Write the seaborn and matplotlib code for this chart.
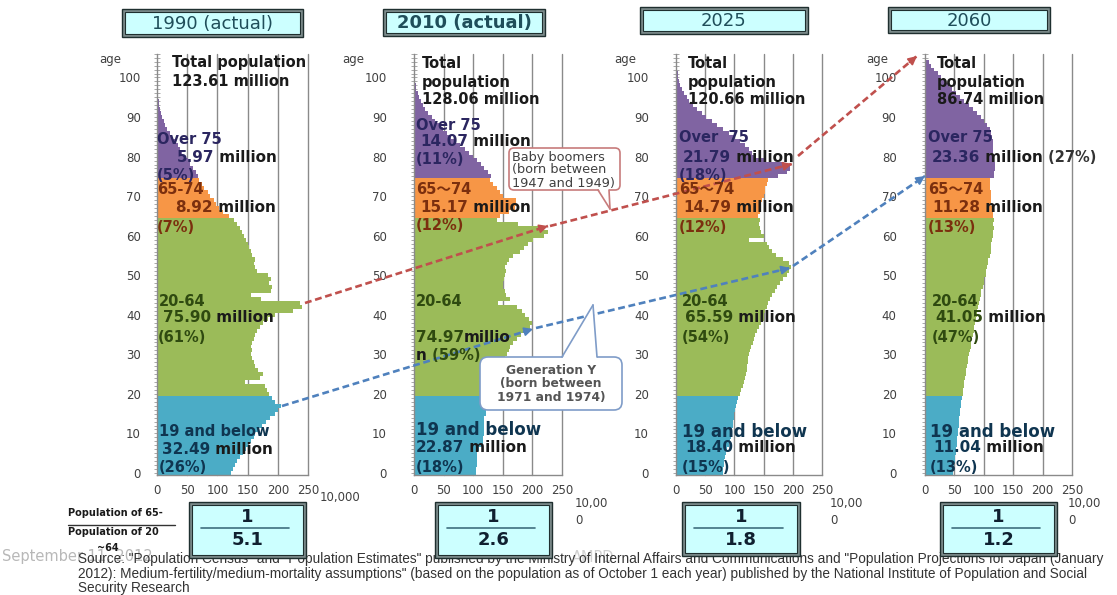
import numpy as np
import pandas as pd
import matplotlib
matplotlib.use("Agg")
import matplotlib.pyplot as plt
import seaborn as sns
from matplotlib.patches import Rectangle, FancyBboxPatch, Polygon
from matplotlib.ticker import MultipleLocator

# ---------------- data (population by single age, unit: 10,000 persons) ----------------
ages = list(range(0, 105))

pop_1990 = [122, 125, 129, 133, 138, 142, 148, 150, 155, 160,
            163, 168, 174, 181, 187, 195, 201, 206, 196, 190,
            185, 182, 178, 145, 170, 176, 168, 163, 160, 157,
            156, 158, 155, 157, 160, 163, 166, 170, 176, 183,
            195, 225, 240, 236, 172, 155, 188, 190, 186, 189,
            184, 165, 162, 160, 163, 158, 155, 152, 150, 147,
            144, 140, 137, 133, 128, 120, 110, 102, 97, 94,
            88, 84, 78, 74, 70, 68, 64, 60, 55, 51,
            47, 42, 38, 34, 29, 25, 21, 17, 14, 11,
            8.5, 6.5, 5, 3.8, 2.8, 2, 1.4, 1, 0.6, 0.4,
            0.3, 0, 0, 0, 0]

pop_2010 = [105, 105, 106, 107, 106, 107, 110, 116, 117, 117,
            118, 119, 119, 119, 119, 121, 121, 121, 122, 122,
            122, 127, 130, 133, 136, 139, 143, 147, 150, 153,
            157, 161, 163, 168, 174, 181, 189, 196, 200, 195,
            188, 182, 174, 142, 162, 156, 153, 151, 151, 152,
            153, 156, 154, 157, 161, 168, 179, 185, 193, 201,
            220, 226, 215, 175, 140, 145, 160, 170, 172, 173,
            150, 145, 140, 133, 128, 130, 125, 119, 113, 107,
            100, 93, 86, 78, 71, 63, 56, 49, 42, 36,
            30, 24, 19, 15, 11, 8, 6, 4, 3, 2,
            1.5, 0.8, 0.4, 0.2, 0.1]

pop_2025 = [80, 81, 82, 83, 84, 86, 88, 90, 92, 94,
            95, 96, 97, 98, 99, 100, 101, 103, 104, 106,
            110, 112, 114, 116, 118, 120, 121, 122, 123, 124,
            125, 127, 129, 131, 133, 136, 139, 142, 146, 150,
            150, 152, 155, 158, 161, 165, 169, 173, 178, 184,
            190, 194, 197, 193, 183, 172, 165, 160, 155, 125,
            150, 146, 143, 142, 143, 140, 143, 145, 146, 148,
            150, 152, 153, 155, 157, 175, 190, 195, 185, 150,
            135, 130, 125, 118, 110, 100, 90, 80, 70, 61,
            52, 44, 36, 29, 23, 18, 13, 10, 7, 5,
            4, 3, 2, 1, 0.5]

pop_2060 = [48, 49, 50, 51, 51, 52, 53, 54, 54, 55,
            56, 56, 57, 58, 58, 59, 60, 61, 62, 63,
            64, 65, 67, 67, 68, 70, 70, 72, 73, 73,
            74, 76, 78, 78, 79, 81, 83, 83, 85, 87,
            88, 89, 90, 92, 94, 96, 96, 98, 100, 101,
            103, 103, 106, 107, 107, 110, 112, 112, 113, 114,
            116, 115, 117, 116, 117, 116, 115, 114, 113, 113,
            112, 112, 111, 111, 111, 118, 118, 119, 119, 118,
            117, 116, 116, 115, 115, 114, 113, 110, 106, 101,
            95, 88, 81, 74, 67, 60, 53, 46, 40, 34,
            28, 22, 16, 11, 6]

group_names = ["19 and below", "20-64", "65-74", "Over 75"]
group_colors = ["#4BACC6", "#9BBB59", "#F79646", "#8064A2"]
panel_titles = ["1990 (actual)", "2010 (actual)", "2025", "2060"]
ratio_values = ["5.1", "2.6", "1.8", "1.2"]
x_ticks = [0, 50, 100, 150, 200, 250]
y_ticks = list(range(0, 101, 10))

total_pop = ["123.61", "128.06", "120.66", "86.74"]
over75_val = ["5.97", "14.07", "21.79", "23.36"]
over75_pct = ["(5%)", "(11%)", "(18%)", "(27%)"]
g6574_val = ["8.92", "15.17", "14.79", "11.28"]
g6574_pct = ["(7%)", "(12%)", "(12%)", "(13%)"]
g2064_val = ["75.90", "74.97", "65.59", "41.05"]
g2064_pct = ["(61%)", "(59%)", "(54%)", "(47%)"]
g19_val = ["32.49", "22.87", "18.40", "11.04"]
g19_pct = ["(26%)", "(18%)", "(15%)", "(13%)"]

pops = [pop_1990, pop_2010, pop_2025, pop_2060]

# ---------------- figure ----------------
sns.set_theme(style="white")
plt.rcParams["font.family"] = ["DejaVu Sans", "Noto Sans CJK JP"]

W, H = 1117, 595
fig = plt.figure(figsize=(W / 100, H / 100), dpi=100)
fig.patch.set_facecolor("white")

panel_x0 = [157, 414, 676, 925]
panel_w = [151, 148, 146, 147]
PX_PER_YR = 3.955
AGE0_Y = 473
YLIM = (-0.6, 106)
Y_BOT = AGE0_Y - YLIM[0] * PX_PER_YR
Y_TOP = AGE0_Y - YLIM[1] * PX_PER_YR
ypads = [9, 17, 17, 18]


def grp(a):
    if a <= 19:
        return group_names[0]
    if a <= 64:
        return group_names[1]
    if a <= 74:
        return group_names[2]
    return group_names[3]


palette = dict(zip(group_names, group_colors))

for i, vals in enumerate(pops):
    x0 = panel_x0[i]
    ax = fig.add_axes([x0 / W, 1 - Y_BOT / H, panel_w[i] / W, (Y_BOT - Y_TOP) / H])
    df = pd.DataFrame({"age": ages, "pop": vals, "group": [grp(a) for a in ages]})
    sns.barplot(data=df, x="pop", y="age", hue="group", hue_order=group_names,
                palette=palette, orient="h", native_scale=True, dodge=False,
                width=1.05, saturation=1, errorbar=None, linewidth=0,
                legend=False, ax=ax, zorder=2)
    ax.set_xlim(0, 250)
    ax.set_ylim(*YLIM)
    ax.set_xticks(x_ticks)
    ax.set_yticks(y_ticks)
    ax.yaxis.set_minor_locator(MultipleLocator(1))
    ax.set_xlabel("")
    ax.set_ylabel("")
    ax.grid(False)
    for xv in x_ticks[1:]:
        ax.axvline(xv, color="#8a8a8a", lw=1.0, zorder=1, clip_on=False)
    for s in ["top", "right"]:
        ax.spines[s].set_visible(False)
    for s in ["left", "bottom"]:
        ax.spines[s].set_color("#8a8a8a")
        ax.spines[s].set_linewidth(1.0)
    ax.tick_params(axis="y", which="both", left=True, direction="inout",
                   color="#9a9a9a", width=0.6, length=5)
    ax.tick_params(axis="y", which="major", pad=ypads[i], labelsize=8.5,
                   labelcolor="#404040")
    ax.tick_params(axis="x", which="both", bottom=False, length=0, pad=6,
                   labelsize=8.5, labelcolor="#404040")
    ax.patch.set_alpha(0)

# ---------------- overlay in pixel coordinates ----------------
ov = fig.add_axes([0, 0, 1, 1], zorder=10)
ov.set_xlim(0, W)
ov.set_ylim(H, 0)
ov.axis("off")
ov.patch.set_alpha(0)

K = "#1a1a1a"
C75 = "#2B2660"
C65 = "#7B2F0E"
C20 = "#2F4A10"
C19 = "#0F3550"


def seq(x, y, parts, weight="bold"):
    s, c, sz = parts[0]
    prev = ov.text(x, y, s, fontsize=sz, color=c, fontweight=weight,
                   ha="left", va="center", zorder=8)
    for s, c, sz in parts[1:]:
        prev = ov.annotate(s, xy=(1, 0.5), xycoords=prev, fontsize=sz, color=c,
                           fontweight=weight, ha="left", va="center", zorder=8)
    return prev


# age labels
for xc in [110, 353, 625, 877]:
    ov.text(xc, 59, "age", fontsize=8.5, color="#404040", ha="center", va="center")

# panel 1
seq(172, 63, [("Total population", K, 10.5)])
seq(172, 82, [(total_pop[0] + " million", K, 10.5)])
seq(157, 140, [("Over 75", C75, 10.5)])
seq(177, 157, [(over75_val[0], C75, 11), (" million", K, 11)])
seq(157, 175, [(over75_pct[0], C75, 10.5)])
seq(157, 189, [("65-74", C65, 10.5)])
seq(175, 207, [(g6574_val[0], C65, 11), (" million", K, 11)])
seq(157, 227, [(g6574_pct[0], C65, 10.5)])
seq(159, 302, [("20-64", C20, 10.5)])
seq(163, 318, [(g2064_val[0], C20, 11), (" million", K, 11)])
seq(158, 338, [(g2064_pct[0], C20, 10.5)])
seq(159, 432, [("19 and below", C19, 10.5)])
seq(162, 450, [(g19_val[0], C19, 11), (" million", K, 11)])
seq(159, 468, [(g19_pct[0], C19, 10.5)])

# panel 2
seq(422, 63, [("Total", K, 10.5)])
seq(422, 82, [("population", K, 10.5)])
seq(422, 100, [(total_pop[1] + " million", K, 10.5)])
seq(416, 126, [("Over 75", C75, 10.5)])
seq(420, 142, [(over75_val[1], C75, 11), (" million", K, 11)])
seq(416, 159, [(over75_pct[1], C75, 10.5)])
seq(416, 190, [("65〜74", C65, 10.5)])
seq(420, 207, [(g6574_val[1], C65, 11), (" million", K, 11)])
seq(416, 225, [(g6574_pct[1], C65, 10.5)])
seq(416, 302, [("20-64", C20, 10.5)])
seq(416, 337, [(g2064_val[1], C20, 11), ("millio", K, 11)])
seq(416, 355, [("n", K, 11), (" " + g2064_pct[1], C20, 10.5)])
seq(416, 430, [("19 and below", C19, 12)])
seq(416, 448, [(g19_val[1], C19, 11), (" million", K, 11)])
seq(416, 467, [(g19_pct[1], C19, 10.5)])

# panel 3
seq(688, 63, [("Total", K, 10.5)])
seq(688, 82, [("population", K, 10.5)])
seq(688, 100, [(total_pop[2] + " million", K, 10.5)])
seq(679, 138, [("Over  75", C75, 10.5)])
seq(683, 157, [(over75_val[2], C75, 11), (" million", K, 11)])
seq(679, 175, [(over75_pct[2], C75, 10.5)])
seq(679, 189, [("65〜74", C65, 10.5)])
seq(683, 207, [(g6574_val[2], C65, 11), (" million", K, 11)])
seq(679, 227, [(g6574_pct[2], C65, 10.5)])
seq(682, 302, [("20-64", C20, 10.5)])
seq(685, 318, [(g2064_val[2], C20, 11), (" million", K, 11)])
seq(682, 337, [(g2064_pct[2], C20, 10.5)])
seq(682, 432, [("19 and below", C19, 12)])
seq(685, 448, [(g19_val[2], C19, 11), (" million", K, 11)])
seq(682, 468, [(g19_pct[2], C19, 10.5)])

# panel 4
seq(937, 63, [("Total", K, 10.5)])
seq(937, 82, [("population", K, 10.5)])
seq(937, 100, [(total_pop[3] + " million", K, 10.5)])
seq(928, 138, [("Over 75", C75, 10.5)])
seq(932, 157, [(over75_val[3], C75, 11), (" million", K, 11), (" " + over75_pct[3], "#333333", 10.5)])
seq(928, 190, [("65〜74", C65, 10.5)])
seq(932, 207, [(g6574_val[3], C65, 11), (" million", K, 11)])
seq(928, 227, [(g6574_pct[3], C65, 10.5)])
seq(932, 302, [("20-64", C20, 10.5)])
seq(935, 318, [(g2064_val[3], C20, 11), (" million", K, 11)])
seq(932, 337, [(g2064_pct[3], C20, 10.5)])
seq(930, 432, [("19 and below", C19, 12)])
seq(933, 448, [(g19_val[3], C19, 11), (" million", K, 11)])
seq(930, 468, [(g19_pct[3], C19, 10.5)])


# ---------------- boxes ----------------
def dbox(x0, y0, x1, y1, z=4):
    ov.add_patch(Rectangle((x0, y0), x1 - x0, y1 - y0, fc="#7d8c8c",
                           ec="#1f2f2f", lw=1.0, zorder=z))
    ov.add_patch(Rectangle((x0 + 3, y0 + 3), x1 - x0 - 6, y1 - y0 - 6,
                           fc="#CCFFFF", ec="#1f2f2f", lw=0.8, zorder=z))


title_boxes = [(122, 9, 303, 37), (383, 9, 545, 36), (640, 7, 808, 34), (888, 7, 1050, 33)]
for i, (x0, y0, x1, y1) in enumerate(title_boxes):
    dbox(x0, y0, x1, y1)
    ov.text((x0 + x1) / 2, (y0 + y1) / 2 + 1, panel_titles[i], fontsize=13,
            color="#1F4E5A", ha="center", va="center",
            fontweight="bold" if i == 1 else "normal", zorder=6)

ratio_boxes = [(189, 502, 306, 558), (435, 502, 552, 558), (682, 502, 800, 556), (940, 502, 1057, 556)]
for i, (x0, y0, x1, y1) in enumerate(ratio_boxes):
    dbox(x0, y0, x1, y1)
    xc = (x0 + x1) / 2
    ov.text(xc, 517, "1", fontsize=13, fontweight="bold", color="#102030",
            ha="center", va="center", zorder=6)
    ov.plot([x0 + 12, x1 - 17], [528, 528], color="#3f6f7f", lw=1.2, zorder=6)
    ov.text(xc, 540, ratio_values[i], fontsize=13, fontweight="bold",
            color="#102030", ha="center", va="center", zorder=6)

ov.text(320, 497, "10,000", fontsize=8.5, color="#404040", ha="left", va="center")
for xt in [575, 830, 1068]:
    ov.text(xt, 503, "10,00", fontsize=8.5, color="#404040", ha="left", va="center")
    ov.text(xt, 520, "0", fontsize=8.5, color="#404040", ha="left", va="center")

ov.text(68, 513, "Population of 65-", fontsize=7, fontweight="bold", color=K,
        ha="left", va="center")
ov.plot([68, 175], [525, 525], color="#333333", lw=1.0)
ov.text(68, 532, "Population of 20", fontsize=7, fontweight="bold", color=K,
        ha="left", va="center")

# ---------------- arrows ----------------
def dashed_arrow(p0, p1, color):
    ov.plot([p0[0], p1[0]], [p0[1], p1[1]], color=color, lw=1.9,
            linestyle=(0, (2.6, 1.4)), zorder=7, solid_capstyle="butt")
    d = np.array(p1, float) - np.array(p0, float)
    d = d / np.hypot(*d)
    pb = np.array(p1, float) - d * 10
    ov.annotate("", xy=p1, xytext=tuple(pb),
                arrowprops=dict(arrowstyle="-|>", color=color, lw=1.2,
                                mutation_scale=13, shrinkA=0, shrinkB=0),
                zorder=7)


RED = "#C0504D"
BLUE = "#4F81BD"
dashed_arrow((305, 303), (548, 226), RED)
dashed_arrow((550, 226), (792, 164), RED)
dashed_arrow((798, 156), (917, 56), RED)
dashed_arrow((282, 406), (533, 329), BLUE)
dashed_arrow((536, 328), (790, 268), BLUE)
dashed_arrow((793, 266), (925, 176), BLUE)

# ---------------- callouts ----------------
bb_ec = "#C77B7B"
ov.add_patch(FancyBboxPatch((509, 148), 111, 42, boxstyle="round,pad=0,rounding_size=5",
                            fc="white", ec=bb_ec, lw=1.2, zorder=8))
ov.add_patch(Polygon([(598, 188), (610, 209), (609, 188)], closed=True, fc="white",
                     ec="none", zorder=9))
ov.plot([598, 610], [190, 209], color=bb_ec, lw=1.2, zorder=9)
ov.plot([609, 610], [190, 209], color=bb_ec, lw=1.2, zorder=9)
for yy, s in zip([157, 170, 183], ["Baby boomers", "(born between", "1947 and 1949)"]):
    ov.text(512, yy, s, fontsize=9.3, color="#404040", ha="left", va="center", zorder=10)

gy_ec = "#7F9CC8"
ov.add_patch(FancyBboxPatch((480, 357), 142, 53, boxstyle="round,pad=0,rounding_size=8",
                            fc="white", ec=gy_ec, lw=1.2, zorder=8))
ov.add_patch(Polygon([(562, 359), (593, 305), (597, 359)], closed=True, fc="white",
                     ec="none", zorder=9))
ov.plot([562, 593], [357, 305], color=gy_ec, lw=1.2, zorder=9)
ov.plot([597, 593], [357, 305], color=gy_ec, lw=1.2, zorder=9)
for yy, s in zip([370, 384, 398], ["Generation Y", "(born between", "1971 and 1974)"]):
    ov.text(551, yy, s, fontsize=8.8, fontweight="bold", color="#555555",
            ha="center", va="center", zorder=10)

# ---------------- footer ----------------
ov.text(2, 556, "September 11, 2012", fontsize=10.5, color="#b8b8b8", ha="left", va="center")
ov.text(572, 557, "AMPD", fontsize=10.5, color="#d0d0d0", ha="left", va="center")
ov.text(97, 548, "~64", fontsize=7, fontweight="bold", color=K, ha="left", va="center")
src = ['Source: "Population Census" and "Population Estimates" published by the Ministry of Internal Affairs and Communications and "Population Projections for Japan (January',
       '2012): Medium-fertility/medium-mortality assumptions" (based on the population as of October 1 each year) published by the National Institute of Population and Social',
       'Security Research']
for yy, s in zip([559, 574, 588], src):
    ov.text(78, yy, s, fontsize=9.8, color="#333333", ha="left", va="center",
            family=["Liberation Sans", "DejaVu Sans"])

fig.savefig("out.png", dpi=100)
